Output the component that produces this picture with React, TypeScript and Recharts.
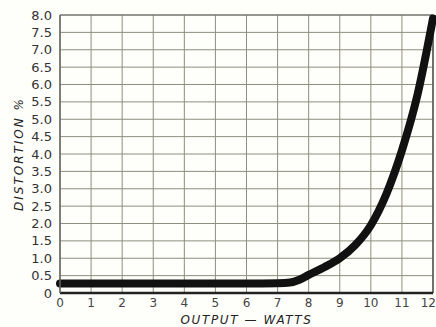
import React from "react";
import { LineChart, Line, XAxis, YAxis, CartesianGrid, ReferenceLine } from "recharts";

const outputWatts = [0, 1, 2, 3, 4, 5, 6, 7, 7.4, 7.7, 8, 8.5, 9, 9.5, 10, 10.5, 11, 11.5, 12];
const distortionPct = [0.27, 0.27, 0.27, 0.27, 0.27, 0.27, 0.27, 0.28, 0.3, 0.38, 0.52, 0.74, 1.0, 1.38, 1.95, 2.85, 4.1, 5.7, 7.9];
const xTicks = [0, 1, 2, 3, 4, 5, 6, 7, 8, 9, 10, 11, 12];
const yTicks = [0, 0.5, 1, 1.5, 2, 2.5, 3, 3.5, 4, 4.5, 5, 5.5, 6, 6.5, 7, 7.5, 8];

const data = outputWatts.map((x, i) => ({ x, y: distortionPct[i] }));

const FONT = "'DejaVu Sans', sans-serif";

const XTick = (props: any) => {
  const { x, y, payload } = props;
  const last = payload.value === 12;
  return (
    <text
      x={last ? 436 : x}
      y={y}
      dy="0.71em"
      textAnchor={last ? "end" : "middle"}
      fill="#444"
      fontSize={12}
      fontFamily={FONT}
    >
      {payload.value}
    </text>
  );
};

export default function App() {
  return (
    <div style={{ position: "absolute", left: 0, top: 0, width: 436, height: 327, background: "#fefefb" }}>
      <LineChart width={436} height={327} data={data} margin={{ top: 15, right: 3, bottom: 0, left: 0 }}>
        <CartesianGrid stroke="#8e8f7e" strokeWidth={1} />
        <XAxis
          dataKey="x"
          type="number"
          domain={[0, 12]}
          ticks={xTicks}
          interval={0}
          height={34}
          tickLine={false}
          tickSize={3}
          tickMargin={2}
          axisLine={{ stroke: "#222", strokeWidth: 2.5 }}
          tick={<XTick />}
          label={{
            value: "OUTPUT — WATTS",
            position: "insideBottom",
            offset: 3,
            style: { fontFamily: FONT, fontStyle: "italic", fontSize: 12, letterSpacing: 1.6, fill: "#222" },
          }}
        />
        <YAxis
          type="number"
          domain={[0, 8]}
          ticks={yTicks}
          interval={0}
          width={60}
          tickLine={false}
          axisLine={{ stroke: "#666", strokeWidth: 1.5 }}
          tickFormatter={(v: number) => (v === 0 ? "0" : v.toFixed(1))}
          tick={{ fill: "#333", fontSize: 13, fontFamily: FONT }}
          label={{
            value: "DISTORTION %",
            angle: -90,
            position: "insideLeft",
            offset: 19,
            style: { textAnchor: "middle", fontFamily: FONT, fontStyle: "italic", fontSize: 12, letterSpacing: 2, fill: "#222" },
          }}
        />
        <ReferenceLine x={12} stroke="#555" strokeWidth={1.5} />
        <ReferenceLine y={8} stroke="#666" strokeWidth={1.2} />
        <Line
          type="monotone"
          dataKey="y"
          stroke="#111"
          strokeWidth={8}
          dot={false}
          strokeLinecap="round"
          strokeLinejoin="round"
          isAnimationActive={false}
        />
      </LineChart>
    </div>
  );
}
